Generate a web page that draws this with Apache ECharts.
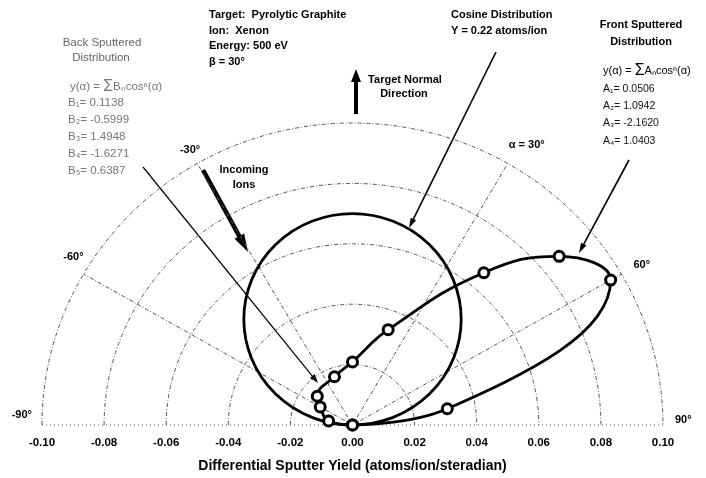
<!DOCTYPE html>
<html>
<head>
<meta charset="utf-8">
<script src="https://cdn.jsdelivr.net/npm/echarts@6/dist/echarts.min.js"></script>
<style>
html,body{margin:0;padding:0;background:#fff;}
#c{width:706px;height:478px;}
</style>
</head>
<body>
<div id="c"></div>
<script>
// ---- data ----
const measAngles = [-90, -80, -60, -50, -20, 0, 20, 40, 50, 60, 80, 90];          // degrees from target normal
const measYields = [0, 0.0078, 0.0120, 0.0148, 0.0170, 0.0209, 0.0336, 0.0658, 0.0869, 0.0960, 0.0310, 0]; // atoms/ion/sr
const cosinePeak = 0.070;                      // Y/pi for Y = 0.22 atoms/ion
const xTicks = [-0.10, -0.08, -0.06, -0.04, -0.02, 0.00, 0.02, 0.04, 0.06, 0.08, 0.10];
const ringRadii = [0.02, 0.04, 0.06, 0.08, 0.10];
const spokeAngles = [-60, -30, 30, 60];
const angleLabelAngles = [-90, -60, -30, 30, 60, 90];
const angleLabelTexts = ['-90°', '-60°', '-30°', 'α = 30°', '60°', '90°'];
const infoLines = ['Target:  Pyrolytic Graphite', 'Ion:  Xenon', 'Energy: 500 eV', 'β = 30°'];
const frontCoefNames = ['A₁', 'A₂', 'A₃', 'A₄'];
const frontCoefs = ['0.0506', '1.0942', '-2.1620', '1.0403'];
const backCoefNames = ['B₁', 'B₂', 'B₃', 'B₄', 'B₅'];
const backCoefs = ['0.1138', '-0.5999', '1.4948', '-1.6271', '0.6387'];

const rad = a => a * Math.PI / 180;
const measXY = measAngles.map((a, i) => [measYields[i] * Math.sin(rad(a)), measYields[i] * Math.cos(rad(a))]);

const FONT = '"Liberation Sans", Arial, sans-serif';
const gridStroke = '#555';
const gridDash = [4, 2, 1, 2];

// label placement offsets (pixels) relative to spoke ends
const labelStyle = {
  '-90': { dx: -10, dy: -10, align: 'right' },
  '-60': { dx: 0, dy: -17, align: 'right' },
  '-30': { dx: 3, dy: -13, align: 'right' },
  '30': { dx: 1, dy: -18, align: 'left' },
  '60': { dx: 12, dy: -9, align: 'left' },
  '90': { dx: 12, dy: -5, align: 'left' }
};

function arrow(x1, y1, x2, y2, w, hl, hw) {
  const dx = x2 - x1, dy = y2 - y1, L = Math.hypot(dx, dy), ux = dx / L, uy = dy / L;
  const bx = x2 - ux * hl, by = y2 - uy * hl;
  return {
    type: 'group', children: [
      { type: 'line', shape: { x1: x1, y1: y1, x2: bx + ux * 1, y2: by + uy * 1 }, style: { stroke: '#000', lineWidth: w } },
      { type: 'polygon', shape: { points: [[x2, y2], [bx - uy * hw, by + ux * hw], [bx + uy * hw, by - ux * hw]] }, style: { fill: '#000' } }
    ]
  };
}
function txt(x, y, text, font, fill, align) {
  return { type: 'text', x: x, y: y, style: { text: text, font: font, fill: fill || '#000', align: align || 'left', verticalAlign: 'middle' } };
}

const B11 = 'bold 11px ' + FONT;
const graphics = [];
infoLines.forEach((t, i) => graphics.push(txt(209, 15 + i * 15.7, t, B11)));
graphics.push(txt(405, 80, 'Target Normal', B11, '#000', 'center'));
graphics.push(txt(404, 94, 'Direction', B11, '#000', 'center'));
graphics.push(txt(451, 15, 'Cosine Distribution', B11));
graphics.push(txt(451, 31, 'Y = 0.22 atoms/ion', B11));
graphics.push(txt(641, 25, 'Front Sputtered', B11, '#000', 'center'));
graphics.push(txt(641, 42, 'Distribution', B11, '#000', 'center'));
graphics.push({ type: 'text', x: 603, y: 71, style: { text: '{a|y(α) = }{s|Σ}{a|Aₙcosⁿ(α)}', verticalAlign: 'middle', rich: { a: { font: '11px ' + FONT, fill: '#000' }, s: { font: '16px ' + FONT, fill: '#000' } } } });
frontCoefNames.forEach((n, i) => graphics.push(txt(603, 89 + i * 17.3, n + '= ' + frontCoefs[i], '10.5px ' + FONT, '#111')));
graphics.push(txt(102, 43, 'Back Sputtered', '11.5px ' + FONT, '#666', 'center'));
graphics.push(txt(101, 58, 'Distribution', '11.5px ' + FONT, '#666', 'center'));
graphics.push({ type: 'text', x: 70, y: 87, style: { text: '{a|y(α) = }{s|Σ}{a|Bₙcosⁿ(α)}', verticalAlign: 'middle', rich: { a: { font: '11.5px ' + FONT, fill: '#777' }, s: { font: '16px ' + FONT, fill: '#777' } } } });
backCoefNames.forEach((n, i) => graphics.push(txt(68, 103 + i * 17, n + '= ' + backCoefs[i], '11.5px ' + FONT, '#777')));
graphics.push(txt(244, 170, 'Incoming', B11, '#000', 'center'));
graphics.push(txt(244, 185, 'Ions', B11, '#000', 'center'));
graphics.push(arrow(356, 114, 356, 69, 4, 13, 5));
graphics.push(arrow(203, 170, 248, 252, 4.5, 18, 5.5));
graphics.push(arrow(143, 167, 318, 383, 1.2, 9, 3));
graphics.push(arrow(496, 52, 409, 228, 1.6, 10, 3));
graphics.push(arrow(629, 160, 579, 253, 1.6, 10, 3));

const chart = echarts.init(document.getElementById('c'), null, { renderer: 'canvas' });
chart.setOption({
  animation: false,
  backgroundColor: '#fff',
  grid: { left: 42, right: 43, top: 123, bottom: 53, containLabel: false, outerBoundsMode: 'none' },
  xAxis: {
    type: 'value', min: xTicks[0], max: xTicks[xTicks.length - 1], interval: 0.02,
    axisLine: { show: false }, axisTick: { show: false }, splitLine: { show: false },
    axisLabel: { margin: 12, color: '#000', fontFamily: FONT, fontWeight: 'bold', fontSize: 11.5, formatter: v => v.toFixed(2) },
    name: 'Differential Sputter Yield (atoms/ion/steradian)', nameLocation: 'middle', nameGap: 34,
    nameTextStyle: { color: '#000', fontFamily: FONT, fontWeight: 'bold', fontSize: 14 }
  },
  yAxis: { type: 'value', min: 0, max: 0.10, show: false },
  series: [
    {
      type: 'custom', name: 'grid', data: [[0, 0]], silent: true, z: 1,
      renderItem: function (params, api) {
        const o = api.coord([0, 0]);
        const R = ringRadii[ringRadii.length - 1];
        const kids = [];
        ringRadii.forEach(r => {
          const s = api.size([r, r]);
          kids.push({ type: 'path', shape: { pathData: 'M ' + (o[0] - s[0]) + ' ' + o[1] + ' A ' + s[0] + ' ' + s[1] + ' 0 0 1 ' + (o[0] + s[0]) + ' ' + o[1] }, style: { fill: null, stroke: gridStroke, lineWidth: 1, lineDash: gridDash } });
        });
        spokeAngles.forEach(a => {
          const p = api.coord([R * Math.sin(rad(a)), R * Math.cos(rad(a))]);
          kids.push({ type: 'line', shape: { x1: o[0], y1: o[1], x2: p[0], y2: p[1] }, style: { stroke: gridStroke, lineWidth: 1, lineDash: gridDash } });
        });
        const l = api.coord([-R, 0]), rr = api.coord([R, 0]);
        kids.push({ type: 'line', shape: { x1: l[0], y1: l[1], x2: rr[0], y2: rr[1] }, style: { stroke: gridStroke, lineWidth: 1, lineDash: [1, 3] } });
        return { type: 'group', children: kids };
      }
    },
    {
      type: 'custom', name: 'labels', data: angleLabelAngles.map((a, i) => [a, i]), silent: true, z: 2,
      renderItem: function (params, api) {
        const a = angleLabelAngles[params.dataIndex];
        const R = ringRadii[ringRadii.length - 1];
        const p = api.coord([R * Math.sin(rad(a)), R * Math.cos(rad(a))]);
        const ls = labelStyle[String(a)];
        return { type: 'text', x: p[0] + ls.dx, y: p[1] + ls.dy, style: { text: angleLabelTexts[params.dataIndex], font: 'bold 11px ' + FONT, fill: '#000', align: ls.align, verticalAlign: 'middle' } };
      }
    },
    {
      type: 'custom', name: 'Cosine Distribution', data: [[0, cosinePeak]], silent: true, z: 3,
      renderItem: function (params, api) {
        const c = api.coord([0, cosinePeak / 2]);
        const s = api.size([cosinePeak / 2, cosinePeak / 2]);
        const d = 'M ' + (c[0] - s[0]) + ' ' + c[1] + ' A ' + s[0] + ' ' + s[1] + ' 0 1 1 ' + (c[0] + s[0]) + ' ' + c[1] +
                  ' A ' + s[0] + ' ' + s[1] + ' 0 1 1 ' + (c[0] - s[0]) + ' ' + c[1] + ' Z';
        return { type: 'path', shape: { pathData: d }, style: { fill: null, stroke: '#000', lineWidth: 2.8 } };
      }
    },
    {
      type: 'line', name: 'Measured', data: measXY, smooth: 0.45, z: 4,
      lineStyle: { color: '#000', width: 2.8 },
      symbol: 'circle', symbolSize: 10, showSymbol: true,
      itemStyle: { color: '#fff', borderColor: '#000', borderWidth: 3 }
    }
  ],
  graphic: graphics
});
</script>
</body>
</html>
